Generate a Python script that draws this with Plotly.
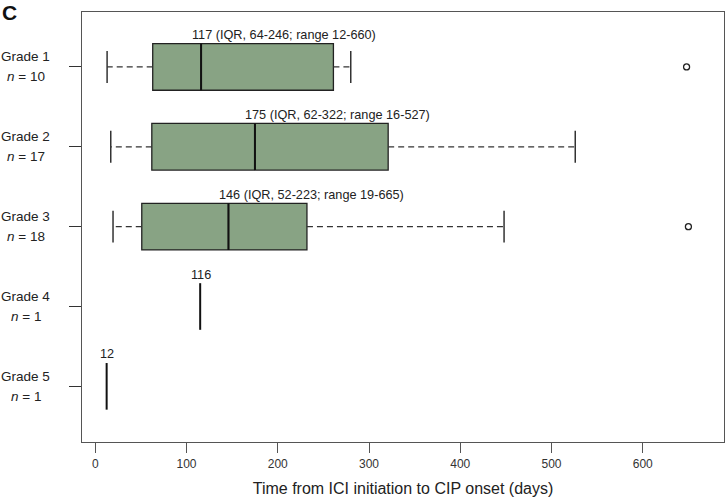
import plotly.graph_objects as go

# ---- data ----
grades = ["Grade 1", "Grade 2", "Grade 3", "Grade 4", "Grade 5"]
n_counts = [10, 17, 18, 1, 1]
whisker_low = [13, 17, 19.5, None, None]
q1 = [63, 62, 51, None, None]
median = [116, 175, 146, 115, 12.5]
q3 = [261, 321, 232, None, None]
whisker_high = [280, 526, 448, None, None]
outliers = [[648], [], [650], [], []]
summary_text = [
    "117 (IQR, 64-246; range 12-660)",
    "175 (IQR, 62-322; range 16-527)",
    "146 (IQR, 52-223; range 19-665)",
    "116",
    "12",
]
label_x = [207, 265, 237, 116, 13]
x_ticks = [0, 100, 200, 300, 400, 500, 600]

# ---- style ----
FONT = "Liberation Sans, Arial, sans-serif"
BOX_FILL = "#88A384"
DARK = "#222222"
BOX_HALF = 0.292
STAPLE_HALF = 0.2

fig = go.Figure()

for i, g in enumerate(grades):
    pos = i + 1
    if q1[i] is not None:
        fig.add_trace(go.Box(
            y=[pos], q1=[q1[i]], median=[median[i]], q3=[q3[i]],
            lowerfence=[q1[i]], upperfence=[q3[i]],
            orientation="h", width=2 * BOX_HALF, whiskerwidth=0,
            fillcolor=BOX_FILL, line=dict(color=DARK, width=1.3),
            boxpoints=False, hoverinfo="skip", showlegend=False,
        ))
        # dashed whiskers
        for a, b in [(q1[i], whisker_low[i]), (q3[i], whisker_high[i])]:
            fig.add_trace(go.Scatter(
                x=[a, b], y=[pos, pos], mode="lines",
                line=dict(color="#333333", width=1.2, dash="6px,4px"),
                hoverinfo="skip", showlegend=False,
            ))
        # staples
        for s in [whisker_low[i], whisker_high[i]]:
            fig.add_trace(go.Scatter(
                x=[s, s], y=[pos - STAPLE_HALF, pos + STAPLE_HALF], mode="lines",
                line=dict(color="#333333", width=1.5),
                hoverinfo="skip", showlegend=False,
            ))
    # median line
    fig.add_trace(go.Scatter(
        x=[median[i], median[i]], y=[pos - BOX_HALF, pos + BOX_HALF], mode="lines",
        line=dict(color="#111111", width=2),
        hoverinfo="skip", showlegend=False,
    ))
    # outliers
    if outliers[i]:
        fig.add_trace(go.Scatter(
            x=outliers[i], y=[pos] * len(outliers[i]), mode="markers",
            marker=dict(symbol="circle-open", size=6, color=DARK, line=dict(width=1.3)),
            hoverinfo="skip", showlegend=False,
        ))
    # summary text above box
    fig.add_annotation(
        x=label_x[i], y=pos - 0.4, xref="x", yref="y", text=summary_text[i],
        showarrow=False, xanchor="center", yanchor="middle",
        font=dict(family=FONT, size=12.7, color=DARK),
    )
    # y labels (two lines, centred)
    fig.add_annotation(
        x=-0.088, y=pos, xref="paper", yref="y", text=g, yshift=10,
        showarrow=False, xanchor="center", yanchor="middle",
        font=dict(family=FONT, size=13.5, color=DARK),
    )
    fig.add_annotation(
        x=-0.088, y=pos, xref="paper", yref="y", text=f"<i>n</i> = {n_counts[i]}", yshift=-10,
        showarrow=False, xanchor="center", yanchor="middle",
        font=dict(family=FONT, size=13.5, color=DARK),
    )

# panel letter
fig.add_annotation(
    x=-0.127, y=1.0, xref="paper", yref="paper", text="<b>C</b>",
    showarrow=False, xanchor="left", yanchor="middle",
    font=dict(family=FONT, size=21, color="#111111"),
)

fig.update_layout(
    width=726, height=501,
    margin=dict(l=82, r=2, t=12, b=59),
    paper_bgcolor="white", plot_bgcolor="white",
    font=dict(family=FONT, color=DARK),
    showlegend=False,
)
fig.update_xaxes(
    range=[-14.5, 689], tickvals=x_ticks, ticktext=[str(v) for v in x_ticks],
    showgrid=False, zeroline=False,
    showline=True, mirror=True, linecolor="#555555", linewidth=1.2,
    ticks="outside", ticklen=10, tickcolor="#555555", tickwidth=1,
    tickfont=dict(family=FONT, size=12, color="#333333"),
    title=dict(text="Time from ICI initiation to CIP onset (days)",
               font=dict(family=FONT, size=16, color=DARK), standoff=13),
)
fig.update_yaxes(
    range=[5.697, 0.312], tickvals=[1, 2, 3, 4, 5], showticklabels=False,
    showgrid=False, zeroline=False,
    showline=True, mirror=True, linecolor="#555555", linewidth=1.2,
    ticks="outside", ticklen=12, tickcolor="#333333", tickwidth=1.2,
)

fig.write_html(
    "out.html",
    config={"displayModeBar": False},
    post_script="document.body.style.margin='0';document.body.style.overflow='hidden';",
)
